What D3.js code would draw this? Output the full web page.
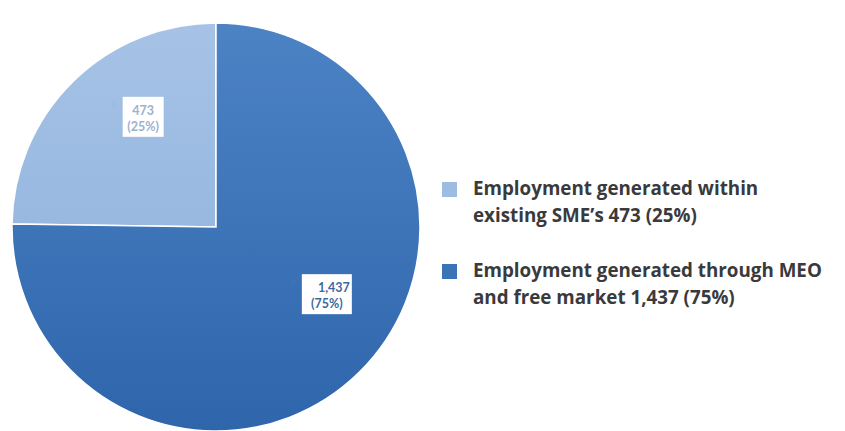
<!doctype html>
<html lang="en">
<head>
<meta charset="UTF-8">
<title>Employment pie</title>
<script src="https://cdn.jsdelivr.net/npm/d3@7"></script>
<style>
  body { margin: 0; background: #fff; }
  svg { display: block; }
</style>
</head>
<body>
<script>
// chart data
var categories = ["Employment generated within existing SME\u2019s", "Employment generated through MEO and free market"];
var values = [473, 1437];
var shares = ["25%", "75%"];
var legendLines = [
  ["Employment generated within", "existing SME\u2019s 473 (25%)"],
  ["Employment generated through MEO", "and free market 1,437 (75%)"]
];

var WIDTH = 845, HEIGHT = 431;
var cx = 216, cy = 227, radius = 204;

var svg = d3.select("body").append("svg")
  .attr("width", WIDTH)
  .attr("height", HEIGHT);

var defs = svg.append("defs");
// gradients to mimic the excel shading
var g1 = defs.append("linearGradient").attr("id", "gLight")
  .attr("x1", 0).attr("y1", 0).attr("x2", 0).attr("y2", 1);
g1.append("stop").attr("offset", "0%").attr("stop-color", "#a6c3e6");
g1.append("stop").attr("offset", "100%").attr("stop-color", "#98b8e0");
var g2 = defs.append("linearGradient").attr("id", "gDark")
  .attr("x1", 0).attr("y1", 0).attr("x2", 0).attr("y2", 1);
g2.append("stop").attr("offset", "0%").attr("stop-color", "#4c83c5");
g2.append("stop").attr("offset", "100%").attr("stop-color", "#2f65ab");

var fills = ["url(#gLight)", "url(#gDark)"];
var swatch = ["#9dbce2", "#3b72b8"];
var labelColor = ["#9bb2d0", "#3d6aa3"];

// small slice runs from 12 o'clock back to 9 o'clock
var offset = 2 * Math.PI * values[0] / d3.sum(values);
var pie = d3.pie().sort(null).value(function(d) { return d; })
  .startAngle(-offset).endAngle(2 * Math.PI - offset);
var arcs = pie(values);

var arc = d3.arc().innerRadius(0).outerRadius(radius);

var g = svg.append("g").attr("transform", "translate(" + cx + "," + cy + ")");

g.selectAll("path.slice")
  .data(arcs)
  .enter()
  .append("path")
  .attr("class", "slice")
  .attr("d", arc)
  .attr("fill", function(d, i) { return fills[i]; })
  .attr("stroke", "#ffffff")
  .attr("stroke-width", 1.5);

// data labels (white boxes)
var labelArc = d3.arc().innerRadius(128).outerRadius(128);
var nudge = [[17, -19], [21, -24]];

var lab = g.selectAll("g.lab")
  .data(arcs)
  .enter()
  .append("g")
  .attr("class", "lab")
  .attr("transform", function(d, i) {
    var c = labelArc.centroid(d);
    return "translate(" + (c[0] + nudge[i][0]) + "," + (c[1] + nudge[i][1]) + ")";
  });

lab.each(function(d, i) {
  var el = d3.select(this);
  var txt1 = d3.format(",")(values[i]);
  var txt2 = "(" + shares[i] + ")";
  var bw = i === 0 ? 41 : 50, bh = 40;
  el.append("rect")
    .attr("x", -bw / 2).attr("y", -bh / 2)
    .attr("width", bw).attr("height", bh)
    .attr("fill", "#ffffff");
  el.append("rect")
    .attr("x", -bw / 2 - 11).attr("y", -bh / 2 + 5)
    .attr("width", 5).attr("height", 5)
    .attr("fill", swatch[i]);
  el.append("text")
    .attr("x", i === 0 ? 0 : bw / 2 - 2).attr("y", -2)
    .attr("text-anchor", i === 0 ? "middle" : "end")
    .attr("font-family", "Lato, sans-serif")
    .attr("font-weight", "bold")
    .attr("font-size", 12.5)
    .attr("fill", labelColor[i])
    .text(txt1);
  el.append("text")
    .attr("x", 0).attr("y", 14)
    .attr("text-anchor", "middle")
    .attr("font-family", "Lato, sans-serif")
    .attr("font-weight", "bold")
    .attr("font-size", 12.5)
    .attr("fill", labelColor[i])
    .text(txt2);
});

// legend
var legend = svg.append("g").attr("transform", "translate(442,182)");
var item = legend.selectAll("g.item")
  .data(categories)
  .enter()
  .append("g")
  .attr("class", "item")
  .attr("transform", function(d, i) { return "translate(0," + (i * 82) + ")"; });

item.append("rect")
  .attr("width", 15).attr("height", 15)
  .attr("fill", function(d, i) { return swatch[i]; });

item.each(function(d, i) {
  var t = d3.select(this).append("text")
    .attr("font-family", "'Open Sans', sans-serif")
    .attr("font-weight", "bold")
    .attr("font-size", 18.8)
    .attr("fill", "#3a3a3c");
  legendLines[i].forEach(function(line, k) {
    t.append("tspan").attr("x", 31).attr("y", 13 + k * 26.5).text(line);
  });
});
</script>
</body>
</html>
